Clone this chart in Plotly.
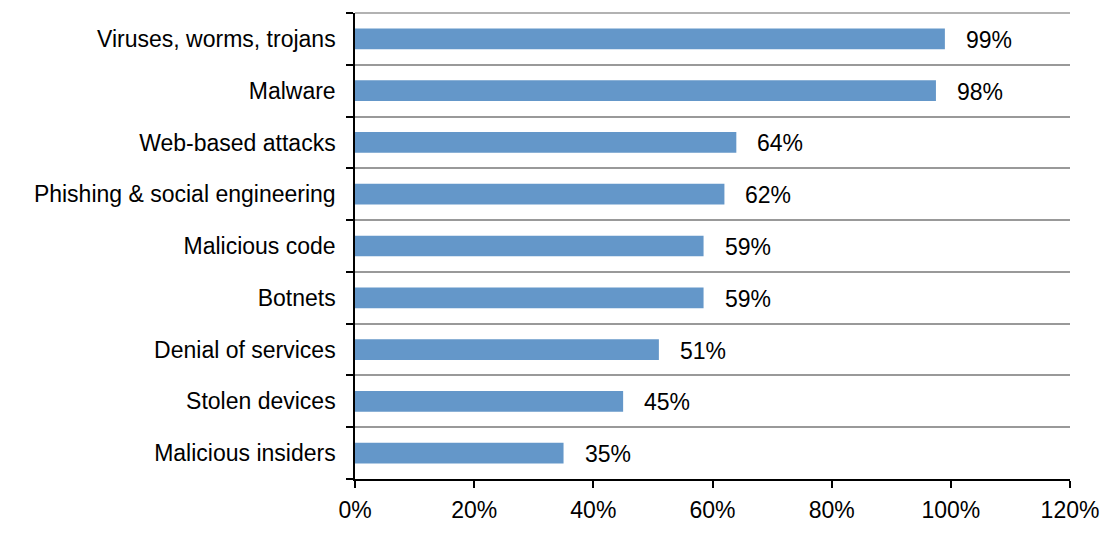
import plotly.graph_objects as go

categories = ["Viruses, worms, trojans", "Malware", "Web-based attacks",
              "Phishing & social engineering", "Malicious code", "Botnets",
              "Denial of services", "Stolen devices", "Malicious insiders"]
values = [0.99, 0.975, 0.64, 0.62, 0.585, 0.585, 0.51, 0.45, 0.35]
labels = ["99%", "98%", "64%", "62%", "59%", "59%", "51%", "45%", "35%"]
xticks = [0, 0.2, 0.4, 0.6, 0.8, 1.0, 1.2]
xticklabels = ["0%", "20%", "40%", "60%", "80%", "100%", "120%"]

cats_r = categories[::-1]
vals_r = values[::-1]
labs_r = labels[::-1]

FONT = "Liberation Sans, Arial, sans-serif"
FS = 23

fig = go.Figure(go.Bar(
    y=cats_r, x=vals_r, orientation="h",
    marker=dict(color="#6497c9", line=dict(width=0)),
    hoverinfo="skip",
))

for c, v, l in zip(cats_r, vals_r, labs_r):
    fig.add_annotation(x=v, y=c, text=l, showarrow=False, xanchor="left",
                       xshift=19, yshift=-1,
                       font=dict(family=FONT, size=FS, color="#000"))

# top gridline (boundary above first category)
fig.add_shape(type="line", xref="x domain", yref="y domain",
              x0=0, x1=1, y0=1, y1=1,
              line=dict(color="#999999", width=1.5), layer="below")

fig.update_layout(
    width=1107, height=557,
    margin=dict(l=355, r=37, t=13, b=78),
    paper_bgcolor="white", plot_bgcolor="white",
    bargap=0.6, showlegend=False,
    font=dict(family=FONT, size=FS, color="#000"),
)
fig.update_xaxes(
    range=[0, 1.2], tickvals=xticks, ticktext=xticklabels,
    showgrid=False, zeroline=False, automargin=False,
    showline=True, linecolor="#000", linewidth=1.5,
    ticks="outside", ticklen=7, tickwidth=1.5, tickcolor="#000",
    tickfont=dict(family=FONT, size=FS, color="#000"),
    ticklabelstandoff=3,
)
fig.update_yaxes(
    type="category", range=[-0.5, 8.5], tickson="boundaries",
    showgrid=True, gridcolor="#999999", gridwidth=1.5, automargin=False,
    showline=True, linecolor="#000", linewidth=1.5,
    ticks="outside", ticklen=7, tickwidth=1.5, tickcolor="#000",
    tickfont=dict(family=FONT, size=FS, color="#000"),
    ticklabelstandoff=13,
)

fig.write_html("out.html")
